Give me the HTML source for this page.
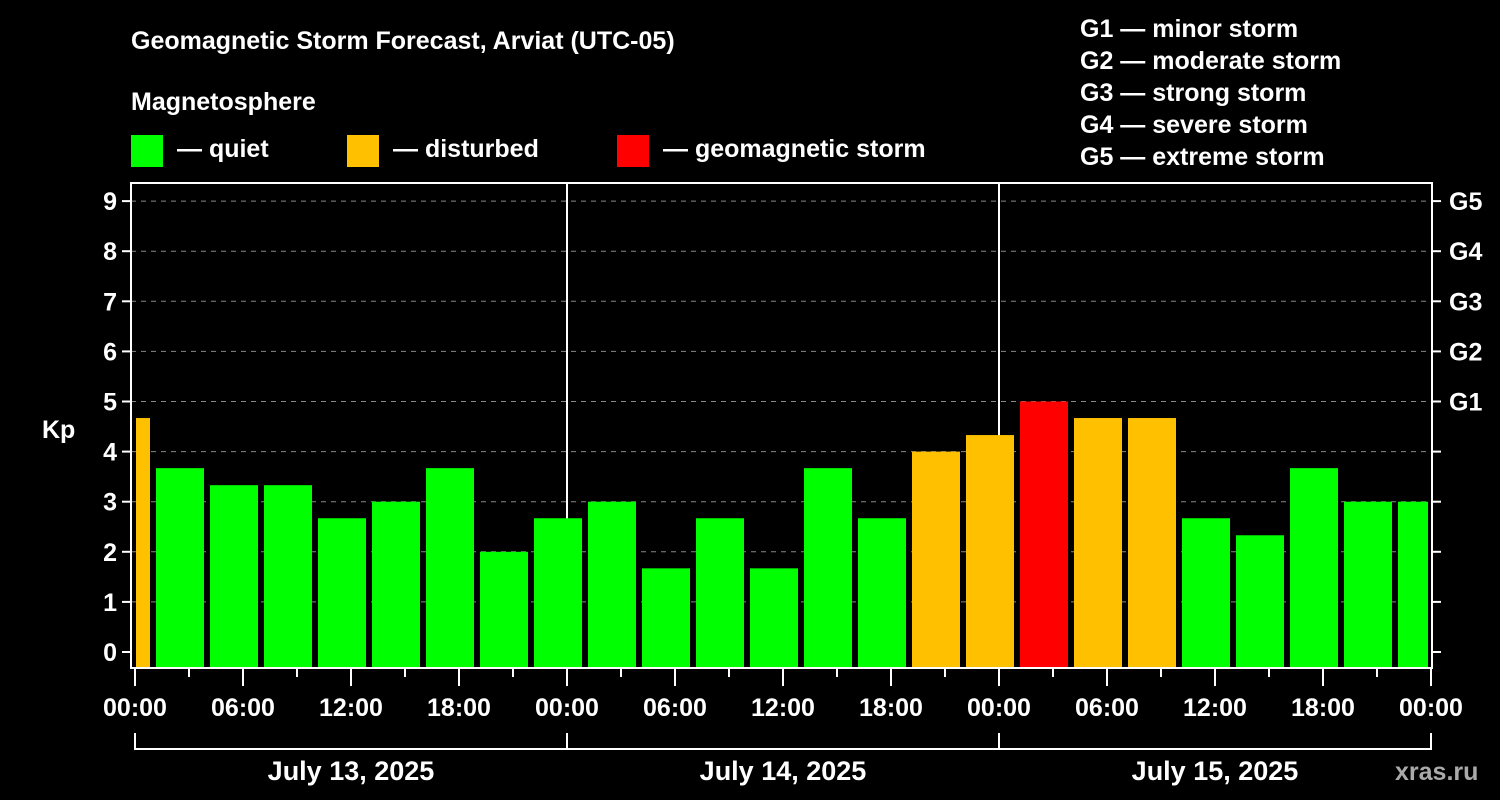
<!DOCTYPE html>
<html><head><meta charset="utf-8"><style>
body{margin:0;background:#000;width:1500px;height:800px;overflow:hidden}
svg{display:block;font-family:"Liberation Sans",sans-serif;font-weight:bold;fill:#fff}
</style></head><body>
<svg id="chart" width="1500" height="800" viewBox="0 0 1500 800">
<rect width="1500" height="800" fill="#000"/>
<text x="131" y="49" font-size="25">Geomagnetic Storm Forecast, Arviat (UTC-05)</text>
<text x="131" y="110" font-size="25">Magnetosphere</text>
<g font-size="25">
<rect x="131" y="135" width="32" height="32" fill="#00ff00"/>
<text x="177" y="157">— quiet</text>
<rect x="347" y="135" width="32" height="32" fill="#ffc000"/>
<text x="393" y="157">— disturbed</text>
<rect x="617" y="135" width="32" height="32" fill="#ff0000"/>
<text x="663" y="157">— geomagnetic storm</text>
</g>
<g font-size="25">
<text x="1080" y="37">G1 — minor storm</text>
<text x="1080" y="69">G2 — moderate storm</text>
<text x="1080" y="101">G3 — strong storm</text>
<text x="1080" y="133">G4 — severe storm</text>
<text x="1080" y="165">G5 — extreme storm</text>
</g>
<text x="42" y="438" font-size="25">Kp</text>
<text x="1395" y="780" font-size="25" fill="#aaa" style="fill:#aaa">xras.ru</text>
<g id="grid"></g><g id="bars"></g><g id="axes"></g>
</svg>
<script>
const kpValues=[4.67,3.67,3.33,3.33,2.67,3,3.67,2,2.67,3,1.67,2.67,1.67,3.67,2.67,4,4.33,5,4.67,4.67,2.67,2.33,3.67,3,3];
const binStartHours=[-2,1,4,7,10,13,16,19,22,25,28,31,34,37,40,43,46,49,52,55,58,61,64,67,70];
const kpTicks=[0,1,2,3,4,5,6,7,8,9];
const gLabels={5:"G1",6:"G2",7:"G3",8:"G4",9:"G5"};
const hourLabels=["00:00","06:00","12:00","18:00","00:00","06:00","12:00","18:00","00:00","06:00","12:00","18:00","00:00"];
const dayLabels=["July 13, 2025","July 14, 2025","July 15, 2025"];
const NS="http://www.w3.org/2000/svg";
const L=131,R=1432,T=183,B=668;
const xs=h=>135+h*18;
const ys=k=>652-k*50.1;
function mk(tag,attrs,parent,txt){const e=document.createElementNS(NS,tag);for(const k in attrs)e.setAttribute(k,attrs[k]);if(txt!==undefined)e.textContent=txt;document.getElementById(parent).appendChild(e);return e;}
kpTicks.forEach(k=>{
  if(k>0){const g=mk('line',{x1:L,x2:R,y1:ys(k),y2:ys(k),stroke:'#888','stroke-dasharray':'5,5','stroke-width':1},'grid');
  
  }
  mk('line',{x1:L-9,x2:L,y1:ys(k),y2:ys(k),stroke:'#fff','stroke-width':2},'axes');
  mk('line',{x1:R,x2:R+9,y1:ys(k),y2:ys(k),stroke:'#fff','stroke-width':2},'axes');
  const t=mk('text',{x:L-14,y:ys(k)+9,'font-size':25,'text-anchor':'end'},'axes',String(k));
  
  
  if(gLabels[k]){const g=mk('text',{x:R+17,y:ys(k)+9,'font-size':25},'axes',gLabels[k]);
  
  }
});
[24,48].forEach(h=>mk('line',{x1:xs(h),x2:xs(h),y1:T,y2:B,stroke:'#fff','stroke-width':2},'grid'));
kpValues.forEach((v,i)=>{
  let x0=Math.max(xs(binStartHours[i])+3,136),x1=Math.min(xs(binStartHours[i]+3)-3,1428);
  const c=v>=5?'#ff0000':(v>=4?'#ffc000':'#00ff00');
  const r=mk('rect',{x:x0,y:ys(v),width:x1-x0,height:B-ys(v),fill:c},'bars');
  
  
});
mk('rect',{x:L,y:T,width:R-L,height:B-T,fill:'none',stroke:'#fff','stroke-width':2},'axes');
for(let h=0;h<=72;h+=3){mk('line',{x1:xs(h),x2:xs(h),y1:B,y2:h%6==0?686:677,stroke:'#fff','stroke-width':2},'axes');}
hourLabels.forEach((s,i)=>{const t=mk('text',{x:xs(i*6),y:716,'font-size':25,'text-anchor':'middle'},'axes',s);
  
  });
mk('path',{d:`M${xs(0)} 733V749H${xs(72)}V733M${xs(24)} 733V749M${xs(48)} 733V749`,fill:'none',stroke:'#fff','stroke-width':2},'axes');
dayLabels.forEach((s,i)=>{const t=mk('text',{x:xs(i*24+12),y:780,'font-size':27,'text-anchor':'middle'},'axes',s);
  
  });
</script>
</body></html>
